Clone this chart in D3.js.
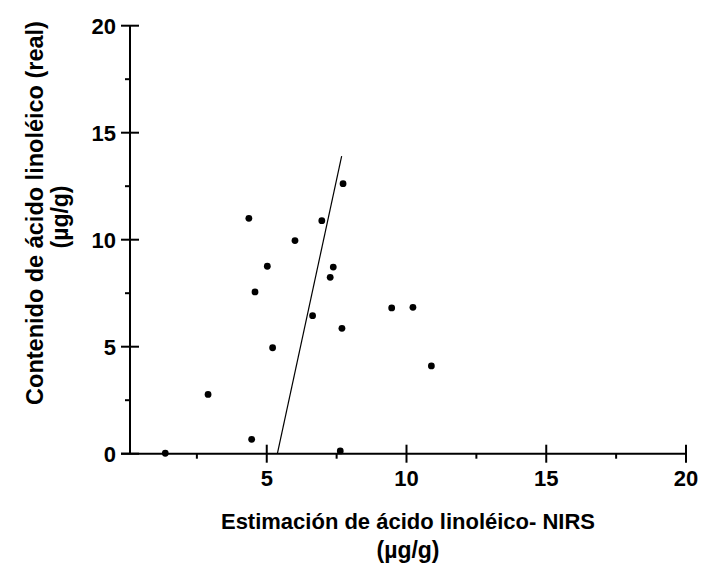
<!DOCTYPE html>
<html>
<head>
<meta charset="utf-8">
<script src="https://cdn.jsdelivr.net/npm/d3@7"></script>
<style>
  html, body { margin: 0; padding: 0; background: #fff; }
  svg { display: block; }
  text { font-family: "Liberation Sans", Arial, sans-serif; font-weight: bold; fill: #000; }
</style>
</head>
<body>
<svg id="chart" width="704" height="569"></svg>
<script>
// Data
const estimatedNIRS = [7.73, 4.36, 6.97, 6.01, 5.02, 7.38, 7.27, 4.58, 9.47, 10.23, 6.64, 7.69, 5.21, 10.89, 2.90, 4.46, 1.37, 7.63];
const realContent   = [12.62, 11.0, 10.89, 9.96, 8.76, 8.72, 8.24, 7.56, 6.81, 6.84, 6.45, 5.86, 4.95, 4.10, 2.77, 0.67, 0.02, 0.13];
const fitLineX = [5.38, 7.68];
const fitLineY = [0, 13.91];
const xTicks = [5, 10, 15, 20];
const yTicks = [0, 5, 10, 15, 20];
const xMinorTicks = [2.5, 7.5, 12.5, 17.5];
const yMinorTicks = [2.5, 7.5, 12.5, 17.5];
const xTitle = ["Estimación de ácido linoléico- NIRS", "(µg/g)"];
const yTitle = ["Contenido de ácido linoléico (real)", "(µg/g)"];

const svg = d3.select("#chart");
const x = d3.scaleLinear().domain([0, 20]).range([127, 686]);
const y = d3.scaleLinear().domain([0, 20]).range([453.7, 25.7]);
const axisX0 = 130; // where the y axis sits

// Y axis
svg.append("line").attr("x1", axisX0).attr("x2", axisX0)
  .attr("y1", y(20)).attr("y2", y(0))
  .attr("stroke", "#000").attr("stroke-width", 2);
svg.selectAll(".ytick").data(yTicks).enter().append("line")
  .attr("x1", axisX0 - 9).attr("x2", axisX0 + 9)
  .attr("y1", d => y(d)).attr("y2", d => y(d))
  .attr("stroke", "#000").attr("stroke-width", 2);
svg.selectAll(".yminor").data(yMinorTicks).enter().append("line")
  .attr("x1", axisX0 - 5).attr("x2", axisX0)
  .attr("y1", d => y(d)).attr("y2", d => y(d))
  .attr("stroke", "#000").attr("stroke-width", 2);
svg.selectAll(".ylab").data(yTicks).enter().append("text")
  .attr("x", 116).attr("y", d => y(d) + 8)
  .attr("text-anchor", "end").attr("font-size", 22)
  .text(d => d);

// X axis
svg.append("line").attr("x1", axisX0 - 9).attr("x2", x(20))
  .attr("y1", y(0)).attr("y2", y(0))
  .attr("stroke", "#000").attr("stroke-width", 2);
svg.selectAll(".xtick").data(xTicks).enter().append("line")
  .attr("x1", d => x(d)).attr("x2", d => x(d))
  .attr("y1", y(0) - 9).attr("y2", y(0) + 9)
  .attr("stroke", "#000").attr("stroke-width", 2);
svg.selectAll(".xminor").data(xMinorTicks).enter().append("line")
  .attr("x1", d => x(d)).attr("x2", d => x(d))
  .attr("y1", y(0)).attr("y2", y(0) + 5)
  .attr("stroke", "#000").attr("stroke-width", 2);
svg.selectAll(".xlab").data(xTicks).enter().append("text")
  .attr("x", d => x(d)).attr("y", 486)
  .attr("text-anchor", "middle").attr("font-size", 22)
  .text(d => d);

// Fit line
svg.append("line")
  .attr("x1", x(fitLineX[0])).attr("y1", y(fitLineY[0]))
  .attr("x2", x(fitLineX[1])).attr("y2", y(fitLineY[1]))
  .attr("stroke", "#000").attr("stroke-width", 1.2);

// Points
svg.selectAll(".pt").data(estimatedNIRS).enter().append("circle")
  .attr("cx", d => x(d)).attr("cy", (d, i) => y(realContent[i]))
  .attr("r", 3.4).attr("fill", "#000");

// Axis titles
svg.append("text").attr("x", 408).attr("y", 529)
  .attr("text-anchor", "middle").attr("font-size", 22).text(xTitle[0]);
svg.append("text").attr("x", 408).attr("y", 558)
  .attr("text-anchor", "middle").attr("font-size", 23).text(xTitle[1]);

svg.append("text").attr("transform", "translate(43,213) rotate(-90)")
  .attr("text-anchor", "middle").attr("font-size", 23.5).text(yTitle[0]);
svg.append("text").attr("transform", "translate(68,217) rotate(-90)")
  .attr("text-anchor", "middle").attr("font-size", 23).text(yTitle[1]);
</script>
</body>
</html>
